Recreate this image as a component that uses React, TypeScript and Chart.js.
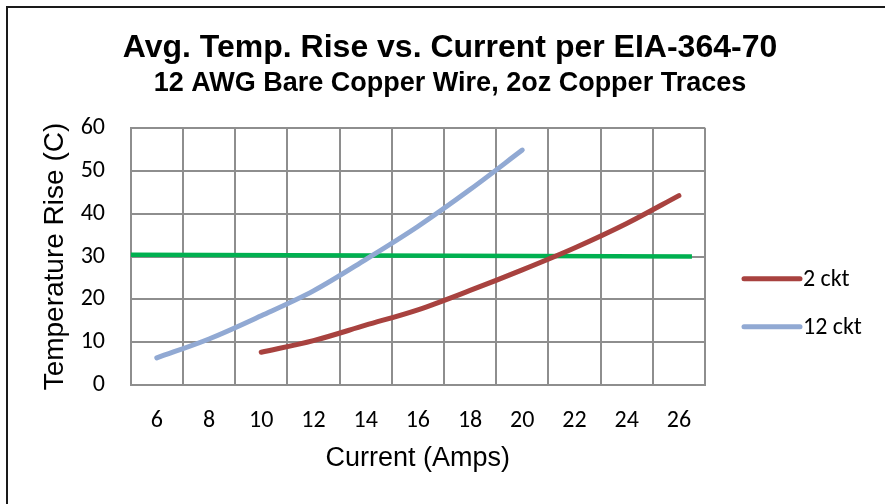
import React, { useEffect, useRef } from 'react';
import { Chart, registerables } from 'chart.js';

Chart.register(...registerables);

const TITLE = 'Avg. Temp. Rise vs. Current per EIA-364-70';
const SUBTITLE = '12 AWG Bare Copper Wire, 2oz Copper Traces';
const X_TITLE = 'Current (Amps)';
const Y_TITLE = 'Temperature Rise (C)';

const xTickLabels = [6, 8, 10, 12, 14, 16, 18, 20, 22, 24, 26];
const yTickLabels = [0, 10, 20, 30, 40, 50, 60];

const current2ckt = [10, 12, 14, 16, 18, 20, 22, 24, 26];
const rise2ckt = [7.7, 10.4, 14.0, 17.6, 22.1, 26.9, 32.0, 37.7, 44.2];

const current12ckt = [6, 8, 10, 12, 14, 16, 18, 20];
const rise12ckt = [6.4, 10.8, 16.2, 22.0, 29.3, 37.0, 45.6, 54.8];

const limitCurrent = [5, 26.5];
const limitRise = [30.4, 30.0];

const RED = '#A8423F';
const BLUE = '#91A9D3';
const GREEN = '#00B050';
const GRID = '#8e8e8e';
const TICK_FONT = 'Carlito, Lato, sans-serif';
const ARIAL = '"Liberation Sans", Arial, sans-serif';

const toPoints = (xs: number[], ys: number[]) => xs.map((x, i) => ({ x, y: ys[i] }));

const sideLegend = {
  id: 'sideLegend',
  afterDraw(chart: any) {
    const { ctx, chartArea } = chart;
    const items = chart.data.datasets.filter((d: any) => d.showInLegend);
    ctx.save();
    items.forEach((d: any, i: number) => {
      const y = chartArea.top + 151 + i * 48;
      const x0 = chartArea.right + 39;
      ctx.strokeStyle = d.borderColor;
      ctx.lineWidth = d.borderWidth;
      ctx.lineCap = 'round';
      ctx.beginPath();
      ctx.moveTo(x0, y);
      ctx.lineTo(x0 + 56, y);
      ctx.stroke();
      ctx.fillStyle = '#000';
      ctx.font = `24px ${TICK_FONT}`;
      ctx.textBaseline = 'alphabetic';
      ctx.textAlign = 'left';
      ctx.fillText(d.label, x0 + 59, y + 7.5);
    });
    ctx.restore();
  },
};

export default function App() {
  const canvasRef = useRef<HTMLCanvasElement | null>(null);

  useEffect(() => {
    if (!canvasRef.current) return;
    const lineStyle = {
      borderWidth: 5,
      borderCapStyle: 'round',
      pointRadius: 0,
      tension: 0.4,
      cubicInterpolationMode: 'monotone',
    };
    const chart = new Chart(canvasRef.current, {
      type: 'line',
      data: {
        datasets: [
          {
            label: '2 ckt',
            showInLegend: true,
            data: toPoints(current2ckt, rise2ckt),
            borderColor: RED,
            backgroundColor: RED,
            ...lineStyle,
          } as any,
          {
            label: '12 ckt',
            showInLegend: true,
            data: toPoints(current12ckt, rise12ckt),
            borderColor: BLUE,
            backgroundColor: BLUE,
            ...lineStyle,
          } as any,
          {
            label: 'Limit',
            showInLegend: false,
            data: toPoints(limitCurrent, limitRise),
            borderColor: GREEN,
            backgroundColor: GREEN,
            borderWidth: 4.5,
            pointRadius: 0,
          } as any,
        ],
      },
      options: {
        animation: false,
        responsive: true,
        maintainAspectRatio: false,
        layout: { padding: { top: 0, right: 0, bottom: 0, left: 15 } },
        plugins: {
          legend: { display: false },
          tooltip: { enabled: false },
          title: {
            display: true,
            text: TITLE,
            color: '#000',
            font: { family: ARIAL, size: 32, weight: 'bold', lineHeight: 1.2 },
            padding: { top: 29, bottom: 0 },
          },
          subtitle: {
            display: true,
            text: SUBTITLE,
            color: '#000',
            font: { family: ARIAL, size: 27, weight: 'bold', lineHeight: 1.2 },
            padding: { top: 0, bottom: 28 },
          },
        },
        scales: {
          x: {
            type: 'linear',
            min: 5,
            max: 27,
            afterBuildTicks: (scale: any) => {
              const t = [];
              for (let v = 5; v <= 27; v++) t.push({ value: v });
              scale.ticks = t;
            },
            afterFit: (scale: any) => {
              scale.height = 118.7;
            },
            grid: {
              drawTicks: false,
              lineWidth: 2,
              color: (ctx: any) =>
                ctx.tick && Math.abs(ctx.tick.value % 2) === 1 ? GRID : 'rgba(0,0,0,0)',
            },
            border: { display: true, color: GRID, width: 2 },
            ticks: {
              autoSkip: false,
              maxRotation: 0,
              padding: 20.8,
              color: '#000',
              font: { family: TICK_FONT, size: 24 },
              callback: (v: any) => (xTickLabels.includes(Number(v)) ? String(v) : ''),
            },
            title: {
              display: true,
              text: X_TITLE,
              color: '#000',
              font: { family: ARIAL, size: 27, lineHeight: 1.2 },
              padding: { top: 0, bottom: 29 },
            },
          },
          y: {
            type: 'linear',
            min: 0,
            max: 60,
            afterBuildTicks: (scale: any) => {
              scale.ticks = yTickLabels.map((v) => ({ value: v }));
            },
            afterFit: (scale: any) => {
              scale.width = 115.7;
            },
            grid: { drawTicks: false, lineWidth: 2, color: GRID },
            border: { display: true, color: GRID, width: 2 },
            ticks: {
              padding: 25.7,
              color: '#000',
              font: { family: TICK_FONT, size: 24 },
            },
            title: {
              display: true,
              text: Y_TITLE,
              color: '#000',
              font: { family: ARIAL, size: 28, lineHeight: 1.2 },
              padding: { top: 23.2, bottom: 0 },
            },
          },
          legendSpace: {
            type: 'linear',
            position: 'right',
            display: true,
            grid: { display: false, drawTicks: false },
            border: { display: false },
            ticks: { display: false },
            afterFit: (scale: any) => {
              scale.width = 180;
            },
          },
        },
      } as any,
      plugins: [sideLegend],
    });
    return () => chart.destroy();
  }, []);

  return (
    <div style={{ position: 'absolute', left: 0, top: 0, width: 885, height: 504, background: '#fff' }}>
      <canvas ref={canvasRef} />
      <div
        style={{
          position: 'absolute',
          left: 6,
          top: 6,
          right: 0,
          bottom: 0,
          borderTop: '2px solid #1a1a1a',
          borderLeft: '2px solid #1a1a1a',
          pointerEvents: 'none',
        }}
      />
    </div>
  );
}
